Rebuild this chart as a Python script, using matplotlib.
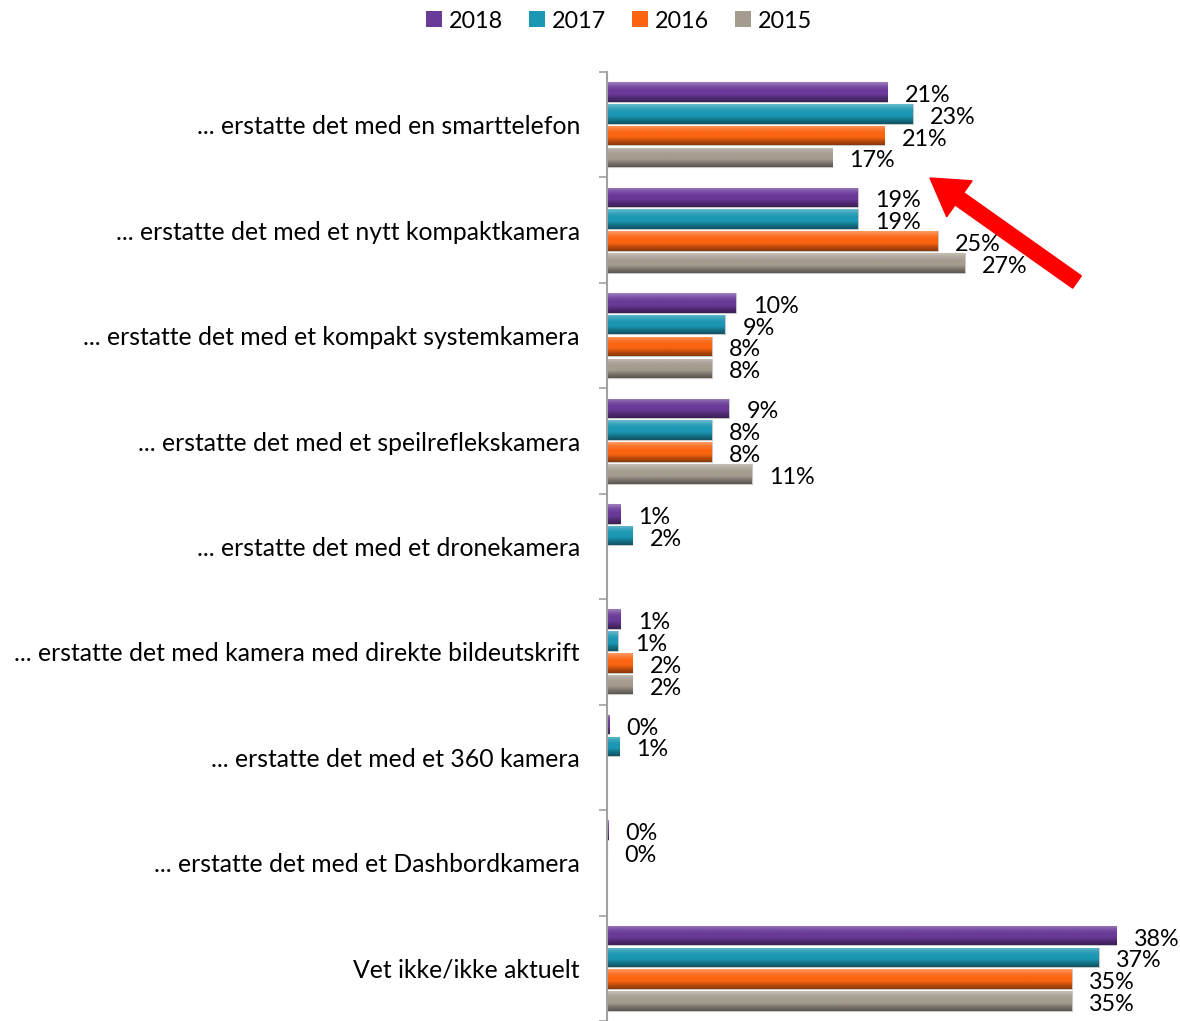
import numpy as np
import matplotlib
matplotlib.use("Agg")
import matplotlib.pyplot as plt
from matplotlib.patches import Patch, FancyArrow
from matplotlib.colors import to_rgb

plt.rcParams['font.family'] = ['Lato', 'DejaVu Sans']

categories = [
    "... erstatte det med en smarttelefon",
    "... erstatte det med et nytt kompaktkamera",
    "... erstatte det med et kompakt systemkamera",
    "... erstatte det med et speilreflekskamera",
    "... erstatte det med et dronekamera",
    "... erstatte det med kamera med direkte bildeutskrift",
    "... erstatte det med et 360 kamera",
    "... erstatte det med et Dashbordkamera",
    "Vet ikke/ikke aktuelt",
]
series = ["2018", "2017", "2016", "2015"]
nan = np.nan
v2018 = [20.9, 18.7, 9.6, 9.1, 1.0, 1.0, 0.15, 0.1, 38.0]
v2017 = [22.8, 18.7, 8.8, 7.8, 1.9, 0.8, 0.9, 0.0, 36.7]
v2016 = [20.7, 24.7, 7.8, 7.8, nan, 1.9, nan, nan, 34.7]
v2015 = [16.8, 26.7, 7.8, 10.8, nan, 1.9, nan, nan, 34.7]
values = [v2018, v2017, v2016, v2015]
colors = ["#6A3A98", "#1B97B3", "#FA6410", "#A59C90"]

fig = plt.figure(figsize=(11.8, 10.21), dpi=100)
ax = fig.add_axes([607/1180, 0.0, 536/1180, 1 - 72/1021])

n = len(categories)
y = np.arange(n)
slot = 0.207
bh = 0.185

def mix(c, t, w):
    c = np.array(to_rgb(c)); t = np.array(to_rgb(t))
    return c * (1 - w) + t * w

for i, (vals, col) in enumerate(zip(values, colors)):
    vals = np.array(vals, dtype=float)
    pos = y + (i - 1.5) * slot
    mask = ~np.isnan(vals)
    bars = ax.barh(pos[mask], vals[mask], height=bh, color=col,
                   edgecolor="#C8C8C8", linewidth=0.8, zorder=2)
    stops = np.array([mix(col, "white", 0.35), mix(col, "white", 0.12), to_rgb(col),
                      to_rgb(col), mix(col, "black", 0.25), mix(col, "black", 0.45)])
    t = np.linspace(0, 1, 40)
    grad = np.zeros((40, 1, 3))
    for k in range(3):
        grad[:, 0, k] = np.interp(t, np.linspace(0, 1, len(stops)), stops[:, k])
    for p in bars:
        x0, yb = p.get_x(), p.get_y()
        w, h = p.get_width(), p.get_height()
        if w <= 0:
            continue
        im = ax.imshow(grad, extent=(x0, x0 + w, yb + h, yb), aspect='auto',
                       zorder=2.5, interpolation='bilinear')
        im.set_clip_path(p)
    for yy, v in zip(pos[mask], vals[mask]):
        ax.annotate(f"{int(round(v))}%", xy=(v, yy), xytext=(12.5, -2.5),
                    textcoords="offset points", va="center", ha="left",
                    fontsize=16.8, color="black", annotation_clip=False)

ax.set_xlim(0, 40)
ax.set_ylim(n - 0.5, -0.5)
ax.set_yticks(y)
ax.set_yticklabels(categories, fontsize=17.8)
ax.set_yticks(np.arange(n + 1) - 0.5, minor=True)
ax.tick_params(axis='y', which='major', length=0, pad=19.5)
ax.tick_params(axis='y', which='minor', length=6, width=1.2, color="#A0A0A0", direction='out')
ax.set_xticks([])
for s in ["top", "right", "bottom"]:
    ax.spines[s].set_visible(False)
ax.spines["left"].set_color("#A0A0A0")
ax.spines["left"].set_linewidth(1.5)
ax.set_facecolor("none")

handles = [Patch(facecolor=c, edgecolor="none") for c in colors]
fig.legend(handles, series, loc="center", bbox_to_anchor=(619/1180, 1 - 21/1021),
           ncol=4, frameon=False, fontsize=16.8, handlelength=0.7, handleheight=0.7,
           handletextpad=0.3, columnspacing=1.1)

# red arrow annotation (coordinates in inches from bottom-left)
H = 10.21
x_tip, y_tip = 9.30, H - 1.78
x_tail, y_tail = 10.77, H - 2.82
arr = FancyArrow(x_tail, y_tail, x_tip - x_tail, y_tip - y_tail, width=0.15,
                 head_width=0.44, head_length=0.36, length_includes_head=True,
                 color="#FF0000", transform=fig.dpi_scale_trans, zorder=5)
fig.add_artist(arr)

fig.savefig("out.png", dpi=100)
